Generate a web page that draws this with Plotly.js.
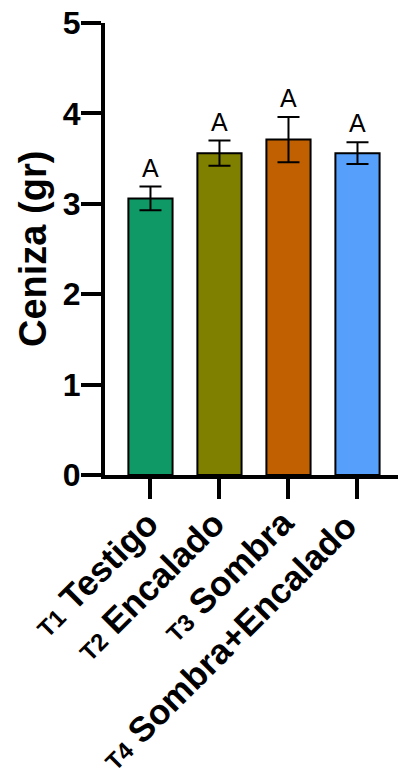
<!DOCTYPE html>
<html>
<head>
<meta charset="utf-8">
<script src="https://cdn.plot.ly/plotly-3.0.1.min.js"></script>
<style>html,body{margin:0;padding:0;background:#fff;}#chart{width:398px;height:779px;}</style>
</head>
<body>
<div id="chart"></div>
<script>
// ---- data ----
var codes = ["T1", "T2", "T3", "T4"];
var names = ["Testigo", "Encalado", "Sombra", "Sombra+Encalado"];
var means = [3.06, 3.56, 3.71, 3.56];
var errors = [0.13, 0.14, 0.25, 0.12];
var letters = ["A", "A", "A", "A"];
var yTicks = [0, 1, 2, 3, 4, 5];

// ---- styles ----
var colors = ["#0F9966", "#808000", "#C06000", "#56A0FC"];
var labelShift = [[18, -25], [15, -26], [15, -24], [9, -28]]; // px offsets of rotated category labels
var FONT = "Arial, 'Liberation Sans', sans-serif";

var categories = codes.map(function (c, i) { return c + " " + names[i]; });

var trace = {
  type: "bar",
  x: categories,
  y: means,
  width: 0.64,
  marker: { color: colors, line: { color: "#000", width: 2 } },
  error_y: { type: "data", array: errors, visible: true, color: "#000", thickness: 2, width: 11 },
  hoverinfo: "none"
};

var annotations = categories.map(function (c, i) {
  return {
    x: c, y: means[i] + errors[i], xref: "x", yref: "y",
    text: letters[i], showarrow: false, yanchor: "bottom", yshift: 3,
    font: { family: FONT, size: 25, color: "#000" }
  };
});
categories.forEach(function (c, i) {
  annotations.push({
    x: c, y: 0, xref: "x", yref: "y",
    text: '<b><span style="font-size:24px">' + codes[i] + '</span> ' + names[i] + '</b>',
    showarrow: false, textangle: -45, xanchor: "right", yanchor: "top",
    xshift: labelShift[i][0], yshift: labelShift[i][1],
    font: { family: FONT, size: 35, color: "#000" }
  });
});
annotations.push({
  xref: "paper", yref: "paper", x: -0.2457, y: 0.5,
  text: "<b>Ceniza (gr)</b>", showarrow: false, textangle: -90,
  xanchor: "center", yanchor: "middle",
  font: { family: FONT, size: 38, color: "#000" }
});

var layout = {
  width: 398, height: 779,
  margin: { l: 105, r: 0, t: 23, b: 304, pad: 0 },
  paper_bgcolor: "#fff", plot_bgcolor: "#fff",
  showlegend: false,
  font: { family: FONT, color: "#000" },
  xaxis: {
    type: "category",
    range: [-0.659, 3.587],
    tickmode: "array", tickvals: categories, showticklabels: false,
    ticks: "outside", ticklen: 20, tickwidth: 4, tickcolor: "#000",
    showline: true, linewidth: 4, linecolor: "#000",
    showgrid: false, zeroline: false
  },
  yaxis: {
    range: [0, 5],
    tickmode: "array", tickvals: yTicks, ticktext: yTicks.map(String),
    ticks: "outside", ticklen: 20, tickwidth: 4, tickcolor: "#000",
    showline: true, linewidth: 4, linecolor: "#000",
    showgrid: false, zeroline: false,
    ticklabelstandoff: -6,
    tickfont: { family: FONT, size: 32, color: "#000", weight: "bold" }
  },
  shapes: [{
    type: "line", xref: "paper", yref: "paper",
    x0: -20 / 293, x1: 0, y0: 0, y1: 0,
    line: { color: "#000", width: 4 }
  }],
  annotations: annotations
};

Plotly.newPlot("chart", [trace], layout, { displayModeBar: false, staticPlot: true });
</script>
</body>
</html>
